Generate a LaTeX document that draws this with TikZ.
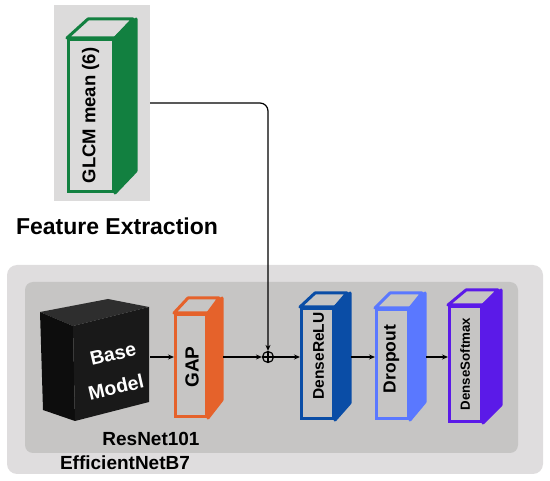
\documentclass[tikz,border=0pt]{standalone}
\usepackage{fontspec}
\setmainfont{Liberation Sans}
\usetikzlibrary{arrows.meta,positioning,calc}

\definecolor{glcmgreen}{HTML}{128040}
\definecolor{gaporange}{HTML}{E5622B}
\definecolor{relublue}{HTML}{0A4DA6}
\definecolor{dropblue}{HTML}{5A78FF}
\definecolor{softpurple}{HTML}{5B1AE8}
\definecolor{panelout}{HTML}{DFDDDE}
\definecolor{panelin}{HTML}{C6C5C4}
\definecolor{glcmbg}{HTML}{DCDBDB}

\begin{document}
\begin{tikzpicture}[x=1pt,y=-1pt,
  front/.style={draw=#1,line width=3pt,rectangle,inner sep=0pt},
  arr/.style={-{Stealth[length=6pt,width=5pt]},line width=1.2pt},
  txt/.style={font=\bfseries\fontsize{#1}{#1}\selectfont,inner sep=0pt}]
\useasboundingbox (0,0) rectangle (550,481);

% Panels
\fill[panelout,rounded corners=10pt] (7,265) rectangle (543,474);
\fill[panelin,rounded corners=8pt] (25,282) rectangle (518,453);
\node[fill=glcmbg,minimum width=96pt,minimum height=196pt,inner sep=0pt] (glcmbox) at (102,103) {};

% GLCM feature block
\node[front=glcmgreen,fill=glcmbg,minimum width=45pt,minimum height=152pt] (glcm) at (91,115.5) {};
\filldraw[glcmbg,draw=glcmgreen,line width=3pt,line join=round] (glcm.north west) -- ++(21,-19) -- ++(45,0) -- (glcm.north east) -- cycle;
\filldraw[glcmgreen,line width=3pt,line join=round] (glcm.north east) -- ++(21,-19) -- ++(0,152) -- (glcm.south east) -- cycle;
\node[txt=18.5,rotate=90] at (90.5,115.5) {GLCM mean (6)};
\node[txt=23] (feat) at (117,226) {Feature Extraction};

% Base model
\coordinate (base) at (150,357);
\fill[black!82] (40,312) -- (108,299) -- (149,307) -- (73,326) -- cycle;
\fill[black!95] (40,312) -- (73,326) -- (75,421) -- (43,410) -- cycle;
\fill[black!90] (73,326) -- (149,307) -- (149,402) -- (75,421) -- cycle;
\node[txt=19.5,text=white,rotate=13] (basetxt) at (113,354) {Base};
\node[txt=19.5,text=white,rotate=13] (modeltxt) at (116,387) {Model};
\node[txt=19] (resnet) at (151,439) {ResNet101};
\node[txt=19] (effnet) at (125,463) {EfficientNetB7};

% GAP
\node[front=gaporange,fill=panelin,minimum width=31pt,minimum height=102pt] (gap) at (191,365.5) {};
\filldraw[panelin,draw=gaporange,line width=3pt,line join=round] (gap.north west) -- ++(14,-15) -- ++(31,0) -- (gap.north east) -- cycle;
\filldraw[gaporange,line width=3pt,line join=round] (gap.north east) -- ++(14,-15) -- ++(0,102) -- (gap.south east) -- cycle;
\node[txt=19,rotate=90] at (192,367) {GAP};

% Concatenation
\node[draw,circle,line width=1.2pt,minimum size=11pt,inner sep=0pt] (plus) at (268,357) {};
\draw[line width=1.2pt] (plus.north) -- (plus.south) (plus.west) -- (plus.east);

% Dense ReLU
\node[front=relublue,fill=panelin,minimum width=32pt,minimum height=110pt] (relu) at (317.5,363.5) {};
\filldraw[panelin,draw=relublue,line width=3pt,line join=round] (relu.north west) -- ++(15,-14) -- ++(32,0) -- (relu.north east) -- cycle;
\filldraw[relublue,line width=3pt,line join=round] (relu.north east) -- ++(15,-14) -- ++(0,110) -- (relu.south east) -- cycle;
\node[txt=15.5,rotate=90] at (318.5,356) {DenseReLU};

% Dropout
\node[front=dropblue,fill=panelin,minimum width=32pt,minimum height=109pt] (drop) at (392.5,364) {};
\filldraw[panelin,draw=dropblue,line width=3pt,line join=round] (drop.north west) -- ++(15,-15) -- ++(32,0) -- (drop.north east) -- cycle;
\filldraw[dropblue,line width=3pt,line join=round] (drop.north east) -- ++(15,-15) -- ++(0,109) -- (drop.south east) -- cycle;
\node[txt=17.5,rotate=90] at (391.5,359) {Dropout};

% Dense Softmax
\node[front=softpurple,fill=panelin,minimum width=32pt,minimum height=115pt] (soft) at (465.5,364) {};
\filldraw[panelin,draw=softpurple,line width=3pt,line join=round] (soft.north west) -- ++(18,-15) -- ++(32,0) -- (soft.north east) -- cycle;
\filldraw[softpurple,line width=3pt,line join=round] (soft.north east) -- ++(18,-15) -- ++(0,115) -- (soft.south east) -- cycle;
\node[txt=13.3,rotate=90] at (465,364) {DenseSoftmax};

% Connections
\draw[arr,rounded corners=8pt] (glcmbox.east) -| (plus.north);
\draw[arr] (base) -- (base -| gap.west);
\draw[arr] ($(gap.east |- plus)+(15,0)$) -- (plus.west);
\draw[arr] (plus.east) -- (plus -| relu.west);
\draw[arr] ($(relu.east |- plus)+(16,0)$) -- (plus -| drop.west);
\draw[arr] ($(drop.east |- plus)+(16,0)$) -- (plus -| soft.west);
\end{tikzpicture}
\end{document}
